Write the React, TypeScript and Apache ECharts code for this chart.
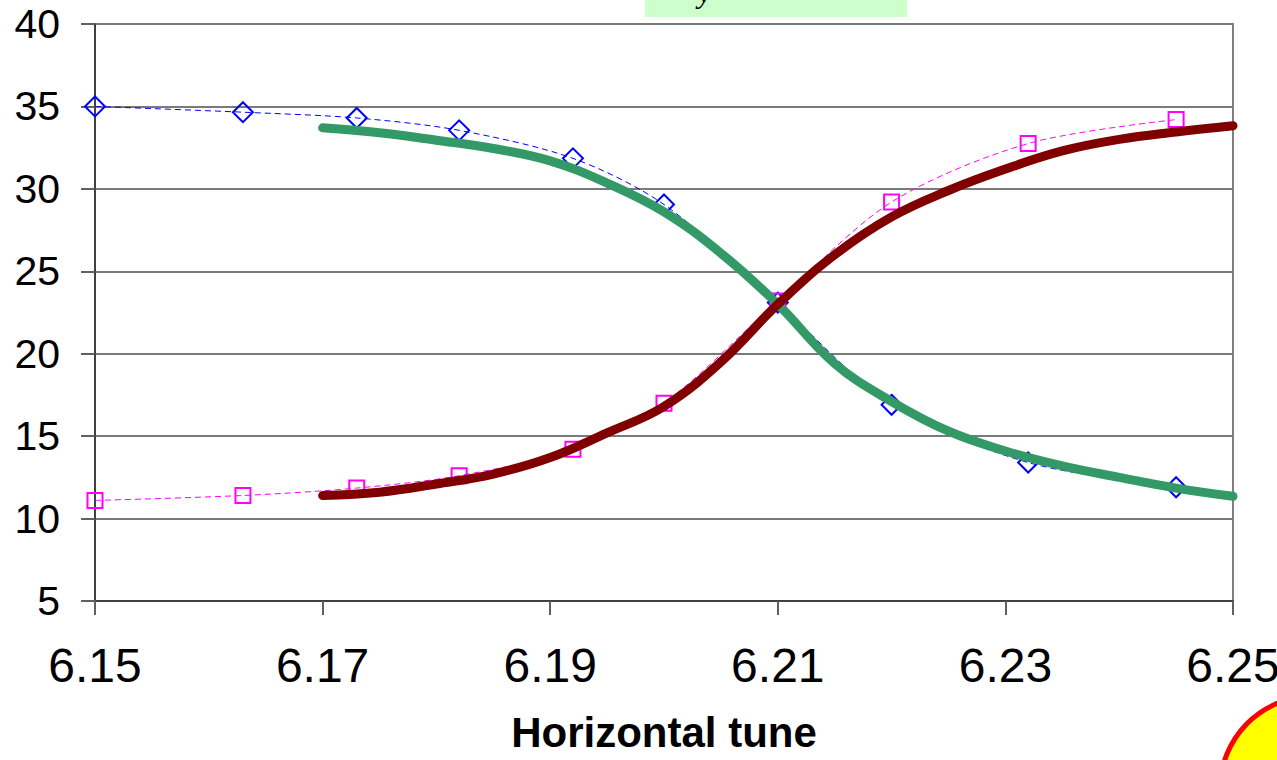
import React, { useEffect, useRef } from "react";
import * as echarts from "echarts";

// Theory curves (thick lines)
const xTheory = [6.17, 6.175, 6.18, 6.185, 6.19, 6.195, 6.2, 6.205, 6.21, 6.215, 6.22, 6.225, 6.23, 6.235, 6.24, 6.245, 6.25];
const mode1Theory = [33.7, 33.4, 32.95, 32.45, 31.7, 30.35, 28.6, 26.1, 23.0, 19.4, 17.1, 15.3, 14.1, 13.2, 12.5, 11.85, 11.35];
const mode2Theory = [11.4, 11.6, 12.1, 12.7, 13.7, 15.2, 16.8, 19.5, 23.0, 26.0, 28.3, 29.9, 31.2, 32.3, 33.0, 33.45, 33.83];

// Measured points
const xMeasured = [6.15, 6.163, 6.173, 6.182, 6.192, 6.2, 6.21, 6.22, 6.232, 6.245];
const diamondValues = [35.0, 34.65, 34.3, 33.55, 31.85, 29.05, 23.1, 16.9, 13.4, 11.9];
const squareValues = [11.1, 11.4, 11.85, 12.6, 14.2, 17.0, 23.2, 29.2, 32.75, 34.2];

// Axis ticks
const xTickValues = [6.15, 6.17, 6.19, 6.21, 6.23, 6.25];
const xAxisTitle = "Horizontal tune";

export default function App() {
  const ref = useRef<HTMLDivElement>(null);
  useEffect(() => {
    if (!ref.current) return;
    const chart = echarts.init(ref.current, null, { renderer: "svg" });
    const pair = (xs: number[], ys: number[]) => xs.map((x, i) => [x, ys[i]]);
    chart.setOption({
      animation: false,
      backgroundColor: "#ffffff",
      grid: {
        left: 95,
        right: 44,
        top: 24,
        bottom: 159,
        outerBoundsMode: "none",
        containLabel: false,
        show: true,
        borderColor: "#808080",
        borderWidth: 2,
      },
      xAxis: {
        type: "value",
        min: 6.15,
        max: 6.25,
        axisLine: { show: true, onZero: false, lineStyle: { color: "#404040", width: 2 } },
        axisTick: { show: true, length: 14, customValues: xTickValues, lineStyle: { color: "#606060", width: 2 } },
        axisLabel: {
          customValues: xTickValues,
          formatter: (v: number) => v.toFixed(2),
          fontFamily: "Liberation Sans",
          fontSize: 48,
          color: "#000",
          margin: 40,
          hideOverlap: false,
        },
        splitLine: { show: false },
      },
      yAxis: {
        type: "value",
        min: 5,
        max: 40,
        interval: 5,
        axisLine: { show: true, lineStyle: { color: "#404040", width: 2 } },
        axisTick: { show: true, length: 14, lineStyle: { color: "#606060", width: 2 } },
        axisLabel: {
          fontFamily: "Liberation Sans",
          fontSize: 41,
          color: "#000",
          margin: 35,
        },
        splitLine: { show: true, lineStyle: { color: "#7a7a7a", width: 2 } },
      },
      series: [
        {
          type: "line",
          data: pair(xMeasured, diamondValues),
          smooth: 0.3,
          symbol: "diamond",
          symbolSize: 20,
          itemStyle: { color: "rgba(255,255,255,0)", borderColor: "#0000ff", borderWidth: 2 },
          lineStyle: { color: "#0000ff", width: 1, type: [6, 4] },
          z: 2,
        },
        {
          type: "line",
          data: pair(xMeasured, squareValues),
          smooth: 0.3,
          symbol: "rect",
          symbolSize: 15,
          itemStyle: { color: "rgba(255,255,255,0)", borderColor: "#ff00ff", borderWidth: 2 },
          lineStyle: { color: "#ff00ff", width: 1, type: [6, 4] },
          z: 2,
        },
        {
          type: "line",
          data: pair(xTheory, mode1Theory),
          smooth: 0.4,
          showSymbol: false,
          lineStyle: { color: "#339966", width: 9, cap: "round" },
          z: 3,
        },
        {
          type: "line",
          data: pair(xTheory, mode2Theory),
          smooth: 0.4,
          showSymbol: false,
          lineStyle: { color: "#800000", width: 9, cap: "round" },
          z: 4,
        },
      ],
      graphic: [
        {
          type: "rect",
          shape: { x: 645, y: -2, width: 262, height: 19 },
          style: { fill: "#ccffcc" },
          z: 10,
        },
        {
          type: "text",
          x: 698,
          y: -23,
          style: {
            text: "y",
            fontFamily: "Liberation Serif",
            fontStyle: "italic",
            fontSize: 30,
            fill: "#000",
          },
          z: 11,
        },
        {
          type: "text",
          x: 664,
          y: 732,
          style: {
            text: xAxisTitle,
            fontFamily: "Liberation Sans",
            fontWeight: "bold",
            fontSize: 42,
            fill: "#000",
            align: "center",
            verticalAlign: "middle",
          },
        },
        {
          type: "ellipse",
          shape: { cx: 1310, cy: 790, rx: 90, ry: 93 },
          style: { fill: "#ffff00", stroke: "#ff0000", lineWidth: 5 },
          z: 10,
        },
      ],
    });
    return () => chart.dispose();
  }, []);
  return (
    <div
      ref={ref}
      style={{ position: "fixed", left: 0, top: 0, width: 1277, height: 760, background: "#fff" }}
    />
  );
}
